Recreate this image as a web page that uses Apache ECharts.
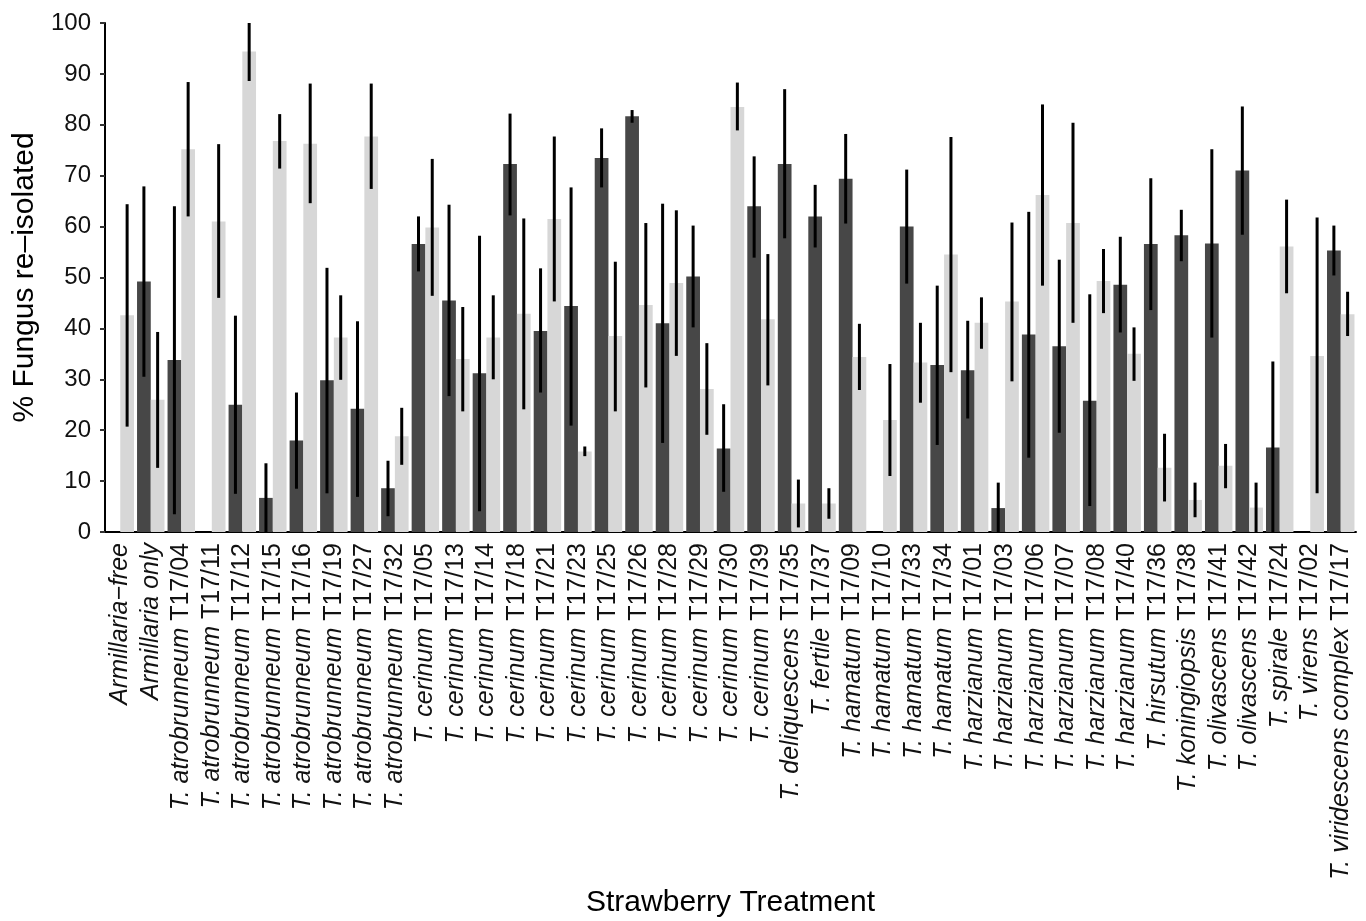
<!DOCTYPE html>
<html>
<head>
<meta charset="utf-8">
<script src="https://cdn.jsdelivr.net/npm/echarts@6/dist/echarts.min.js"></script>
<style>
html,body{margin:0;padding:0;background:#fff;}
#chart{width:1366px;height:921px;}
</style>
</head>
<body>
<div id="chart"></div>
<script>
// Category labels: italic species part, plain strain code
const species = [
  'Armillaria\u2212free','Armillaria only',
  'T. atrobrunneum','T. atrobrunneum','T. atrobrunneum','T. atrobrunneum','T. atrobrunneum','T. atrobrunneum','T. atrobrunneum','T. atrobrunneum',
  'T. cerinum','T. cerinum','T. cerinum','T. cerinum','T. cerinum','T. cerinum','T. cerinum','T. cerinum','T. cerinum','T. cerinum','T. cerinum','T. cerinum',
  'T. deliquescens','T. fertile',
  'T. hamatum','T. hamatum','T. hamatum','T. hamatum',
  'T. harzianum','T. harzianum','T. harzianum','T. harzianum','T. harzianum','T. harzianum',
  'T. hirsutum','T. koningiopsis','T. olivascens','T. olivascens','T. spirale','T. virens','T. viridescens complex'
];
const strains = [
  '','',
  'T17/04','T17/11','T17/12','T17/15','T17/16','T17/19','T17/27','T17/32',
  'T17/05','T17/13','T17/14','T17/18','T17/21','T17/23','T17/25','T17/26','T17/28','T17/29','T17/30','T17/39',
  'T17/35','T17/37',
  'T17/09','T17/10','T17/33','T17/34',
  'T17/01','T17/03','T17/06','T17/07','T17/08','T17/40',
  'T17/36','T17/38','T17/41','T17/42','T17/24','T17/02','T17/17'
];
const categories = species.map((s, i) => strains[i] ? s + ' ' + strains[i] : s);

// Dark series (mean, lower, upper)
const darkMean = [0,49.2,33.8,0,25.0,6.7,18.0,29.8,24.2,8.6,
  56.6,45.5,31.2,72.3,39.5,44.4,73.5,81.7,41.0,50.2,16.4,64.0,
  72.3,62.0,69.4,0,60.0,32.8,31.8,4.7,38.8,36.5,25.8,48.6,
  56.6,58.3,56.7,71.0,16.6,0,55.3];
const darkLow = [null,30.5,3.5,null,7.5,0,8.5,7.6,6.9,3.1,
  51.2,26.7,4.1,62.2,27.4,20.9,67.7,80.4,17.5,40.2,7.9,53.9,
  57.7,55.9,60.6,null,48.8,17.1,22.3,0,14.6,19.5,5.1,39.2,
  43.6,53.2,38.2,58.4,0,null,50.4];
const darkHigh = [null,67.9,64.0,null,42.5,13.5,27.4,51.9,41.4,14.0,
  62.0,64.3,58.2,82.2,51.8,67.7,79.3,82.9,64.5,60.2,25.1,73.8,
  87.0,68.2,78.2,null,71.2,48.4,41.5,9.7,62.9,53.5,46.7,58.0,
  69.5,63.3,75.2,83.6,33.5,null,60.2];

// Light series (mean, lower, upper)
const lightMean = [42.6,26.0,75.2,61.0,94.4,76.8,76.3,38.2,77.7,18.8,
  59.8,34.0,38.2,42.9,61.5,15.8,38.5,44.6,48.9,28.1,83.5,41.8,
  5.6,5.6,34.4,22.0,33.3,54.5,41.1,45.3,66.2,60.7,49.3,35.0,
  12.6,6.3,13.0,4.8,56.1,34.6,42.8];
const lightLow = [20.7,12.6,62.0,46.0,88.6,71.4,64.6,29.9,67.4,13.2,
  46.4,23.7,30.0,24.1,45.3,14.9,23.7,28.4,34.6,19.1,78.9,28.8,
  0.9,2.6,27.9,11.0,25.4,31.4,36.0,29.6,48.4,41.1,43.0,29.7,
  6.0,2.9,8.6,0,46.9,7.6,38.5];
const lightHigh = [64.4,39.3,88.4,76.2,100,82.1,88.1,46.5,88.1,24.4,
  73.3,44.2,46.5,61.6,77.7,16.8,53.1,60.7,63.2,37.1,88.3,54.6,
  10.3,8.6,40.9,33.0,41.1,77.6,46.1,60.8,84.0,80.4,55.6,40.2,
  19.3,9.7,17.3,9.7,65.3,61.8,47.2];

const yTicks = [0,10,20,30,40,50,60,70,80,90,100];

const BAR_FRAC = 0.45;
function errData(lo, hi) {
  return lo.map((v, i) => (v === null ? null : [i, v, hi[i]])).filter(d => d !== null);
}
function errRender(sign) {
  return function (params, api) {
    const x = api.value(0);
    const p1 = api.coord([x, api.value(1)]);
    const p2 = api.coord([x, api.value(2)]);
    const band = api.size([1, 0])[0];
    const off = sign * band * BAR_FRAC / 2;
    return {
      type: 'line',
      shape: { x1: p1[0] + off, y1: p1[1], x2: p2[0] + off, y2: p2[1] },
      style: { stroke: '#000', lineWidth: 3 }
    };
  };
}

const chart = echarts.init(document.getElementById('chart'), null, { renderer: 'canvas' });
const font = 'Liberation Sans, Arial, Helvetica, sans-serif';
chart.setOption({
  animation: false,
  backgroundColor: '#fff',
  textStyle: { fontFamily: font },
  grid: { left: 105, right: 10, top: 23, bottom: 389, containLabel: false, outerBoundsMode: 'none' },
  xAxis: {
    type: 'category',
    data: categories,
    name: 'Strawberry Treatment',
    nameLocation: 'middle',
    nameGap: 356,
    nameTextStyle: { fontSize: 30, color: '#000', fontFamily: font },
    axisLine: { lineStyle: { color: '#000', width: 2 } },
    axisTick: { alignWithLabel: true, length: 5, lineStyle: { color: '#333', width: 2 } },
    axisLabel: {
      interval: 0,
      rotate: 90,
      margin: 11,
      fontSize: 25,
      color: '#111',
      fontFamily: font,
      formatter: function (v, i) {
        const s = species[i], st = strains[i];
        return st ? '{i|' + s + '} {n|' + st + '}' : '{i|' + s + '}';
      },
      rich: {
        i: { fontStyle: 'italic', fontSize: 25, color: '#111', fontFamily: font },
        n: { fontSize: 25, color: '#111', fontFamily: font }
      }
    }
  },
  yAxis: {
    type: 'value',
    min: 0, max: 100, interval: 10,
    name: '% Fungus re\u2013isolated',
    nameLocation: 'middle',
    nameGap: 60,
    nameRotate: 90,
    nameTextStyle: { fontSize: 30, color: '#000', fontFamily: font },
    axisLine: { show: true, lineStyle: { color: '#000', width: 2 } },
    axisTick: { show: true, length: 5, lineStyle: { color: '#333', width: 2 } },
    splitLine: { show: false },
    axisLabel: {
      fontSize: 24, color: '#111', margin: 14, fontFamily: font,
      formatter: v => (yTicks.indexOf(v) >= 0 ? String(v) : '')
    }
  },
  series: [
    {
      name: 'Dark', type: 'bar', data: darkMean,
      barWidth: (BAR_FRAC * 100) + '%', barGap: '0%',
      itemStyle: { color: '#474747' }
    },
    {
      name: 'Light', type: 'bar', data: lightMean,
      barWidth: (BAR_FRAC * 100) + '%', barGap: '0%',
      itemStyle: { color: '#d7d7d7' }
    },
    {
      name: 'Dark error', type: 'custom', renderItem: errRender(-1),
      data: errData(darkLow, darkHigh), encode: { x: 0, y: [1, 2] }, z: 5
    },
    {
      name: 'Light error', type: 'custom', renderItem: errRender(1),
      data: errData(lightLow, lightHigh), encode: { x: 0, y: [1, 2] }, z: 5
    }
  ]
});
</script>
</body>
</html>
